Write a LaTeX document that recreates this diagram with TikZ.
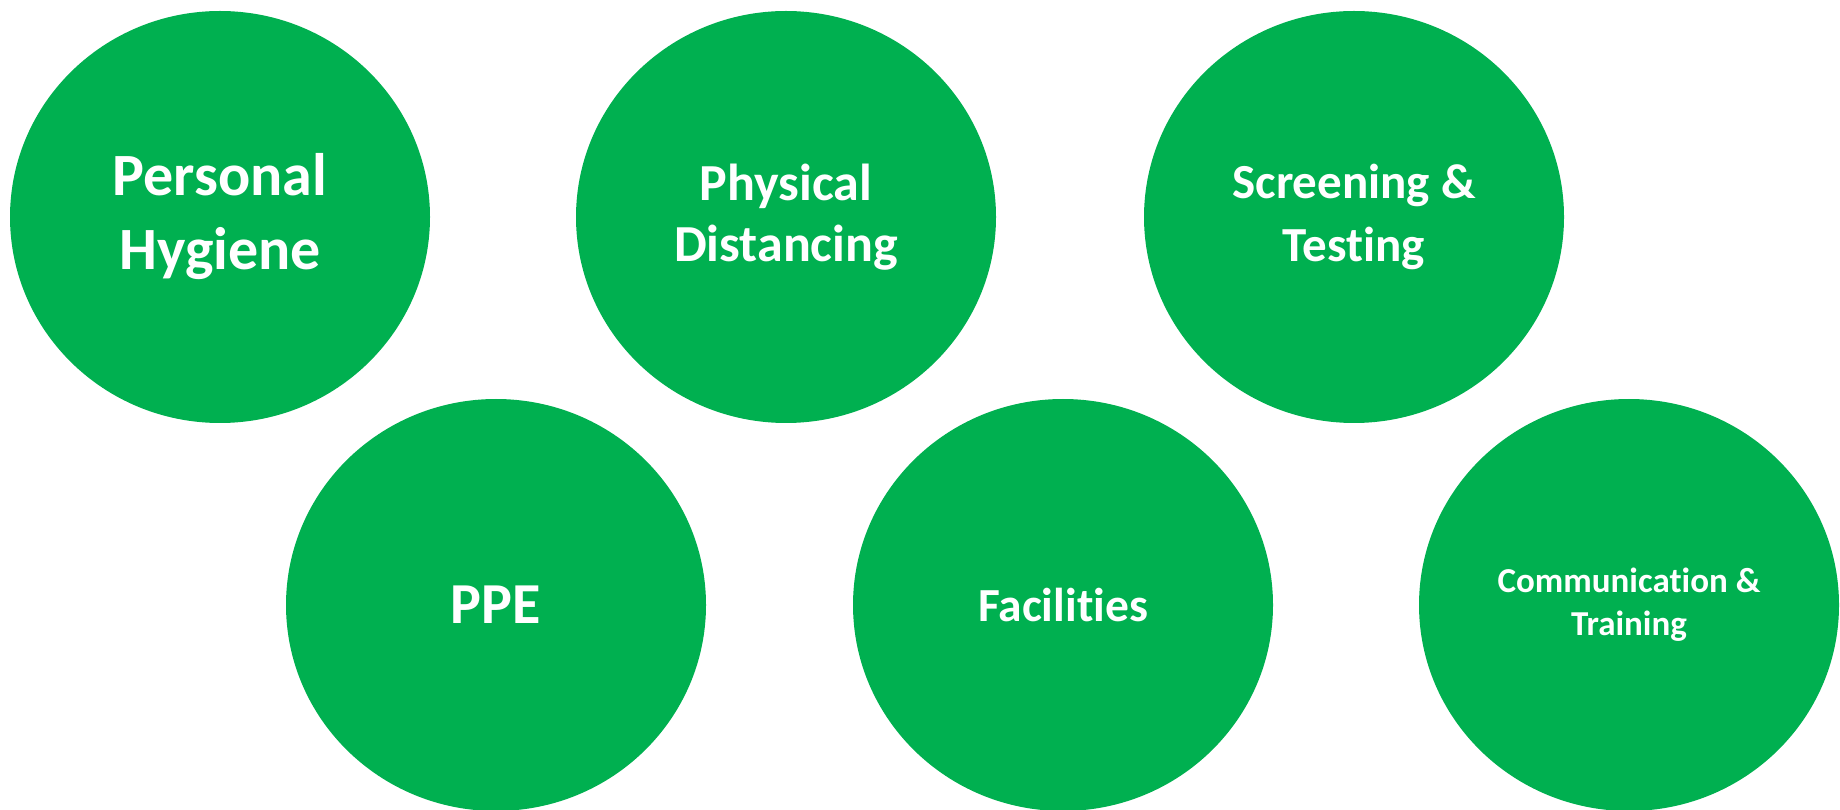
\documentclass[tikz,border=0pt]{standalone}
\usepackage{fontspec}
\setmainfont[Ligatures=NoCommon]{Carlito}
\usetikzlibrary{shapes.geometric}
\definecolor{blobgreen}{HTML}{00B050}

\begin{document}
\begin{tikzpicture}[x=0.5pt, y=0.5pt,
  blob/.style={shape=ellipse, fill=blobgreen, draw=none, inner sep=0pt,
    minimum width=210pt, minimum height=206pt, text=white, align=center,
    font=\bfseries}]
\useasboundingbox (0,0) rectangle (1840,809);
% top row
\node[blob, font=\bfseries\fontsize{30}{37}\selectfont] (hyg) at (220,592) {Personal\\Hygiene};
\node[blob, font=\bfseries\fontsize{26}{30.5}\selectfont] (dist) at (786,592) {Physical\\Distancing};
\node[blob, font=\bfseries\fontsize{24.5}{31.5}\selectfont] (test) at (1354,592) {Screening \&\\Testing};
% bottom row
\node[blob, font=\bfseries\fontsize{29}{35}\selectfont] (ppe) at (496,204) {PPE};
\node[blob, font=\bfseries\fontsize{23.75}{29}\selectfont] (fac) at (1063,204) {Facilities};
\node[blob, font=\bfseries\fontsize{17.5}{21.5}\selectfont] (comm) at (1629,204) {Communication \&\\Training};
\end{tikzpicture}
\end{document}
